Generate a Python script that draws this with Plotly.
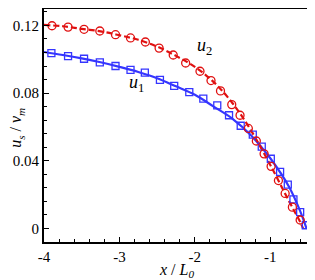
import plotly.graph_objects as go

# Marker (symbol) data
u2_x = [-3.894, -3.681, -3.469, -3.260, -3.052, -2.853, -2.656, -2.474, -2.287, -2.122,
        -1.932, -1.786, -1.660, -1.511, -1.401, -1.291, -1.185, -1.082, -0.989, -0.892,
        -0.803, -0.707, -0.604]
u2_y = [0.1198, 0.1190, 0.1177, 0.1167, 0.1145, 0.1126, 0.1102, 0.1066, 0.1025, 0.0978,
        0.0929, 0.0874, 0.0813, 0.0732, 0.0669, 0.0591, 0.0517, 0.0441, 0.0367, 0.0283,
        0.0207, 0.0126, 0.0050]

u1_x = [-3.902, -3.681, -3.469, -3.260, -3.052, -2.853, -2.663, -2.463, -2.274, -2.074,
        -1.888, -1.703, -1.547, -1.392, -1.232, -1.113, -0.993, -0.870, -0.768, -0.693,
        -0.604, -0.529]
u1_y = [0.1036, 0.1019, 0.1003, 0.0981, 0.0960, 0.0937, 0.0921, 0.0878, 0.0843, 0.0806,
        0.0767, 0.0728, 0.0669, 0.0607, 0.0554, 0.0484, 0.0412, 0.0334, 0.0259, 0.0172,
        0.0097, 0.0019]

# Curve data
u2_line_x = [-4, -3.75, -3.5, -3.25, -3, -2.75, -2.5, -2.25, -2, -1.75, -1.5, -1.25, -1, -0.75, -0.6, -0.565]
u2_line_y = [0.1203, 0.1195, 0.1180, 0.1165, 0.1142, 0.1115, 0.1075, 0.1020, 0.0955, 0.0865,
             0.0740, 0.0575, 0.0375, 0.0160, 0.0035, 0.0]
u1_line_x = [-4, -3.75, -3.5, -3.25, -3, -2.75, -2.5, -2.25, -2, -1.75, -1.5, -1.25, -1, -0.75, -0.6, -0.52]
u1_line_y = [0.1043, 0.1025, 0.1005, 0.0982, 0.0955, 0.0925, 0.0888, 0.0840, 0.0790, 0.0720,
             0.0648, 0.0548, 0.0415, 0.0245, 0.0098, 0.0]

x_ticks = [-4, -3, -2, -1]
x_tick_text = ["-4", "-3", "-2", "-1"]
y_ticks = [0, 0.04, 0.08, 0.12]
y_tick_text = ["0", "0.04", "0.08", "0.12"]

RED = "#e01010"
BLUE = "#3535ff"
FONT = "Liberation Serif"
TICKFONT = dict(family=FONT, size=15, color="black")

fig = go.Figure()
fig.add_trace(go.Scatter(x=u1_line_x, y=u1_line_y, mode="lines", line=dict(color=BLUE, width=2.2, shape="spline"),
                         showlegend=False))
fig.add_trace(go.Scatter(x=u2_line_x, y=u2_line_y, mode="lines",
                         line=dict(color=RED, width=2.2, dash="6px,3px", shape="spline"), showlegend=False))
fig.add_trace(go.Scatter(x=u1_x, y=u1_y, mode="markers",
                         marker=dict(symbol="square-open", size=7, color=BLUE, line=dict(width=1.3, color=BLUE)),
                         showlegend=False))
fig.add_trace(go.Scatter(x=u2_x, y=u2_y, mode="markers",
                         marker=dict(symbol="circle-open", size=8, color=RED, line=dict(width=1.3, color=RED)),
                         showlegend=False))

fig.add_annotation(x=-1.87, y=0.1076, text="<i>u</i><sub>2</sub>", showarrow=False,
                   font=dict(family=FONT, size=18, color="black"))
fig.add_annotation(x=-2.77, y=0.0856, text="<i>u</i><sub>1</sub>", showarrow=False,
                   font=dict(family=FONT, size=18, color="black"))

# Axis titles
fig.add_annotation(xref="paper", yref="paper", x=0.5, y=0, yanchor="middle", yshift=-28,
                   text="<i>x</i> / <i>L</i><sub><i>0</i></sub>", showarrow=False,
                   font=dict(family=FONT, size=16, color="black"))
fig.add_annotation(xref="paper", yref="paper", x=0, y=0.49, xanchor="center", xshift=-27, textangle=-90,
                   text="<i>u</i><sub><i>s</i></sub> / <i>v</i><sub><i>m</i></sub>", showarrow=False,
                   font=dict(family=FONT, size=16, color="black"))

# The page body adds an 8px offset, so the figure is sized to fill the rest of the window.
fig.update_layout(
    width=307, height=272,
    margin=dict(l=36, r=7, t=1, b=38),
    paper_bgcolor="white", plot_bgcolor="white",
    font=dict(family=FONT, size=15, color="black"),
    xaxis=dict(range=[-4, -0.5], tickvals=x_ticks, ticktext=x_tick_text, ticks="inside", ticklen=5,
               tickwidth=1.2, tickcolor="black", showline=True, linecolor="black", linewidth=1.8, mirror=True,
               showgrid=False, zeroline=False, automargin=False, tickfont=TICKFONT,
               minor=dict(dtick=0.2, ticks="inside", ticklen=3, tickcolor="black", tickwidth=1)),
    yaxis=dict(range=[-0.008, 0.1297], tickvals=y_ticks, ticktext=y_tick_text, ticks="inside", ticklen=5,
               tickwidth=1.2, tickcolor="black", showline=True, linecolor="black", linewidth=1.8, mirror=True,
               showgrid=False, zeroline=False, automargin=False, tickfont=TICKFONT,
               minor=dict(tick0=0, dtick=0.008, ticks="inside", ticklen=3, tickcolor="black", tickwidth=1)),
)

fig.write_html("out.html")
